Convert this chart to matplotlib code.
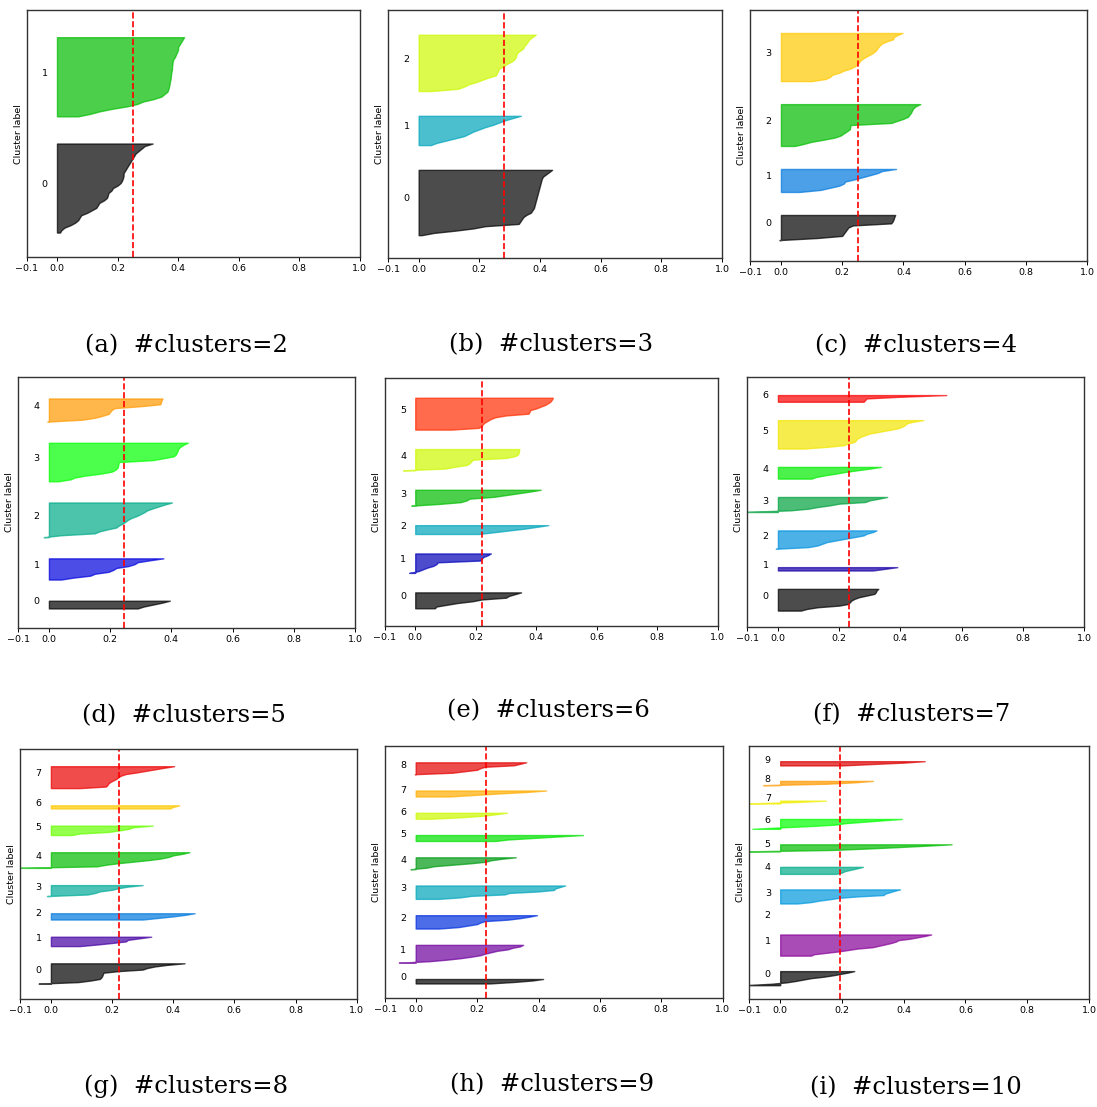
import numpy as np
import matplotlib
matplotlib.use("Agg")
import matplotlib.pyplot as plt
from matplotlib import cm

# ============================================================
# SILHOUETTE DATA (70 samples, one list per cluster)
# ============================================================

N_CLUSTERS = [2, 3, 4, 5, 6, 7, 8, 9, 10]
PANEL_TAGS = ["a", "b", "c", "d", "e", "f", "g", "h", "i"]
SILHOUETTE_AVG = [0.250, 0.281, 0.252, 0.246, 0.220, 0.233, 0.223, 0.229, 0.193]

SIL_K2 = [
    [0.01, 0.015, 0.025, 0.045, 0.06, 0.07, 0.075, 0.08, 0.10, 0.115, 0.13, 0.135,
     0.14, 0.155, 0.165, 0.168, 0.17, 0.18, 0.185, 0.20, 0.21, 0.215, 0.218, 0.22,
     0.22, 0.225, 0.23, 0.235, 0.24, 0.245, 0.25, 0.255, 0.26, 0.27, 0.28, 0.29, 0.316],
    [0.07, 0.11, 0.14, 0.18, 0.23, 0.265, 0.285, 0.32, 0.345, 0.355, 0.365, 0.368,
     0.37, 0.372, 0.373, 0.375, 0.376, 0.377, 0.378, 0.38, 0.38, 0.381, 0.382, 0.384,
     0.39, 0.393, 0.397, 0.40, 0.40, 0.405, 0.41, 0.415, 0.42],
]

SIL_K3 = [
    [0.01, 0.05, 0.12, 0.18, 0.22, 0.33, 0.335, 0.34, 0.345, 0.355, 0.37, 0.375,
     0.38, 0.382, 0.384, 0.386, 0.388, 0.39, 0.392, 0.394, 0.396, 0.398, 0.40, 0.402,
     0.404, 0.406, 0.41, 0.42, 0.43, 0.44],
    [0.04, 0.06, 0.09, 0.12, 0.15, 0.165, 0.18, 0.20, 0.22, 0.245, 0.265, 0.285, 0.31, 0.337],
    [0.04, 0.13, 0.15, 0.165, 0.19, 0.21, 0.23, 0.255, 0.258, 0.262, 0.265, 0.28, 0.29,
     0.305, 0.315, 0.32, 0.322, 0.325, 0.335, 0.345, 0.348, 0.355, 0.36, 0.365, 0.375, 0.386],
]

SIL_K4 = [
    [-0.005, 0.12, 0.20, 0.205, 0.21, 0.215, 0.22, 0.235, 0.36, 0.365, 0.368, 0.37, 0.373],
    [0.06, 0.13, 0.16, 0.19, 0.205, 0.21, 0.24, 0.265, 0.29, 0.315, 0.33, 0.376],
    [0.045, 0.075, 0.10, 0.14, 0.175, 0.195, 0.205, 0.215, 0.225, 0.226, 0.227, 0.36,
     0.38, 0.40, 0.415, 0.42, 0.425, 0.428, 0.432, 0.44, 0.455],
    [0.10, 0.145, 0.16, 0.167, 0.19, 0.205, 0.227, 0.24, 0.25, 0.255, 0.26, 0.27, 0.282,
     0.295, 0.305, 0.312, 0.316, 0.322, 0.33, 0.345, 0.366, 0.368, 0.38, 0.397],
]

SIL_K5 = [
    [0.29, 0.31, 0.34, 0.37, 0.395],
    [0.04, 0.08, 0.135, 0.15, 0.195, 0.21, 0.22, 0.26, 0.28, 0.29, 0.33, 0.374],
    [-0.017, 0.04, 0.15, 0.165, 0.19, 0.22, 0.228, 0.24, 0.25, 0.258, 0.27, 0.287, 0.30,
     0.312, 0.322, 0.34, 0.36, 0.38, 0.402],
    [0.03, 0.07, 0.085, 0.12, 0.17, 0.205, 0.217, 0.224, 0.226, 0.227, 0.228, 0.34, 0.375,
     0.408, 0.415, 0.418, 0.421, 0.423, 0.43, 0.44, 0.454],
    [-0.005, 0.11, 0.15, 0.175, 0.195, 0.20, 0.205, 0.215, 0.30, 0.364, 0.366, 0.368, 0.371],
]

SIL_K6 = [
    [0.065, 0.07, 0.105, 0.14, 0.19, 0.22, 0.30, 0.31, 0.33, 0.35],
    [-0.02, 0.01, 0.025, 0.04, 0.06, 0.07, 0.075, 0.215, 0.22, 0.225, 0.24, 0.25],
    [0.21, 0.26, 0.31, 0.36, 0.40, 0.44],
    [-0.013, 0.08, 0.15, 0.17, 0.18, 0.26, 0.30, 0.34, 0.38, 0.415],
    [-0.04, 0.10, 0.13, 0.17, 0.18, 0.185, 0.19, 0.30, 0.33, 0.34, 0.342, 0.343, 0.344],
    [0.12, 0.21, 0.22, 0.223, 0.23, 0.24, 0.25, 0.265, 0.30, 0.374, 0.378, 0.38, 0.40,
     0.415, 0.43, 0.44, 0.448, 0.452, 0.455],
]

SIL_K7 = [
    [0.075, 0.095, 0.13, 0.20, 0.23, 0.235, 0.24, 0.25, 0.265, 0.29, 0.315, 0.32, 0.322, 0.328],
    [0.31, 0.35, 0.39],
    [-0.007, 0.10, 0.13, 0.145, 0.16, 0.19, 0.22, 0.25, 0.28, 0.29, 0.31, 0.322],
    [-0.12, 0.04, 0.10, 0.13, 0.17, 0.20, 0.285, 0.30, 0.33, 0.357],
    [0.11, 0.125, 0.155, 0.19, 0.22, 0.26, 0.30, 0.337],
    [0.085, 0.16, 0.215, 0.23, 0.25, 0.255, 0.26, 0.27, 0.285, 0.30, 0.33, 0.36, 0.39,
     0.405, 0.415, 0.42, 0.44, 0.475],
    [0.28, 0.285, 0.29, 0.40, 0.55],
]

SIL_K8 = [
    [-0.04, 0.09, 0.13, 0.16, 0.165, 0.168, 0.17, 0.172, 0.22, 0.30, 0.315, 0.34, 0.38, 0.437],
    [0.095, 0.15, 0.20, 0.245, 0.252, 0.29, 0.328],
    [0.30, 0.35, 0.40, 0.44, 0.47],
    [-0.013, 0.12, 0.145, 0.16, 0.20, 0.22, 0.25, 0.30],
    [-0.11, 0.15, 0.18, 0.22, 0.27, 0.32, 0.36, 0.385, 0.40, 0.43, 0.453],
    [0.068, 0.095, 0.19, 0.225, 0.255, 0.27, 0.333],
    [0.39, 0.40, 0.42],
    [0.095, 0.18, 0.185, 0.188, 0.195, 0.205, 0.215, 0.22, 0.23, 0.245, 0.28, 0.31, 0.34,
     0.37, 0.403],
]

SIL_K9 = [
    [0.24, 0.32, 0.38, 0.415],
    [-0.055, 0.045, 0.10, 0.145, 0.18, 0.21, 0.225, 0.245, 0.265, 0.30, 0.315, 0.34, 0.35],
    [0.075, 0.14, 0.17, 0.20, 0.21, 0.225, 0.30, 0.34, 0.37, 0.395],
    [0.075, 0.145, 0.18, 0.29, 0.305, 0.40, 0.45, 0.455, 0.47, 0.487],
    [-0.017, 0.035, 0.06, 0.12, 0.18, 0.227, 0.245, 0.28, 0.326],
    [0.26, 0.30, 0.38, 0.46, 0.545],
    [0.05, 0.15, 0.22, 0.26, 0.297],
    [0.11, 0.19, 0.27, 0.36, 0.425],
    [-0.003, 0.12, 0.16, 0.20, 0.21, 0.225, 0.32, 0.34, 0.36],
]

SIL_K10 = [
    [-0.12, -0.03, 0.02, 0.05, 0.075, 0.10, 0.14, 0.17, 0.195, 0.22, 0.24],
    [0.10, 0.11, 0.15, 0.19, 0.22, 0.25, 0.30, 0.32, 0.34, 0.36, 0.375, 0.383, 0.42,
     0.445, 0.47, 0.489],
    [0.0],
    [0.055, 0.10, 0.125, 0.16, 0.19, 0.25, 0.335, 0.34, 0.355, 0.37, 0.388],
    [0.18, 0.20, 0.21, 0.23, 0.25, 0.268],
    [-0.11, 0.17, 0.28, 0.38, 0.47, 0.555],
    [-0.09, 0.00, 0.10, 0.18, 0.21, 0.27, 0.33, 0.394],
    [-0.11, 0.05, 0.148],
    [-0.055, 0.15, 0.24, 0.30],
    [0.20, 0.30, 0.40, 0.468],
]

SILHOUETTES = [SIL_K2, SIL_K3, SIL_K4, SIL_K5, SIL_K6, SIL_K7, SIL_K8, SIL_K9, SIL_K10]

# ============================================================
# LAYOUT (pixel boxes: left, right, top, bottom; caption centre)
# ============================================================

W, H = 1097, 1107

AX_BOXES = [
    (26.7, 359.7, 10.0, 257.3),
    (388.3, 722.0, 10.0, 257.7),
    (750.3, 1087.3, 10.0, 261.0),
    (18.3, 355.0, 377.3, 627.7),
    (385.0, 717.7, 378.3, 626.0),
    (747.3, 1084.0, 376.7, 627.3),
    (20.3, 356.7, 749.0, 999.3),
    (385.0, 722.7, 746.0, 998.3),
    (749.3, 1089.0, 745.7, 999.3),
]

CAPTION_POS = [
    (186, 346), (551, 345), (916, 346),
    (184, 716), (548, 711), (912, 715),
    (186, 1086), (552, 1085), (916, 1088),
]

SMALL = 6.8

fig = plt.figure(figsize=(W / 100, H / 100), dpi=100)

for k, n in enumerate(N_CLUSTERS):

    x0, x1, yt, yb = AX_BOXES[k]

    ax = fig.add_axes([x0 / W, 1 - yb / H, (x1 - x0) / W, (yb - yt) / H])

    clusters = SILHOUETTES[k]
    n_samples = sum(len(c) for c in clusters)

    y_lower = 10

    for i, vals in enumerate(clusters):

        vals = np.sort(np.asarray(vals, dtype=float))
        size = len(vals)
        y_upper = y_lower + size

        color = cm.nipy_spectral(float(i) / n)

        ax.fill_betweenx(
            np.arange(y_lower, y_upper),
            0,
            vals,
            facecolor=color,
            edgecolor=color,
            alpha=0.7
        )

        ax.text(-0.05, y_lower + 0.5 * size, str(i), fontsize=SMALL)

        y_lower = y_upper + 10

    ax.axvline(x=SILHOUETTE_AVG[k], color="red", linestyle="--", linewidth=1.2)

    ax.set_xlim([-0.1, 1])
    ax.set_ylim([0, n_samples + (n + 1) * 10])

    ax.set_yticks([])
    ax.set_xticks([-0.1, 0, 0.2, 0.4, 0.6, 0.8, 1])
    ax.tick_params(axis="x", labelsize=SMALL, length=3, width=0.7, pad=2)

    ax.set_ylabel("Cluster label", fontsize=SMALL, labelpad=3)

    for spine in ax.spines.values():
        spine.set_linewidth(1.0)
        spine.set_color("#333333")

    cx, cy = CAPTION_POS[k]
    fig.text(
        cx / W, 1 - cy / H,
        f"({PANEL_TAGS[k]})  #clusters={n}",
        ha="center", va="center",
        family="DejaVu Serif", fontsize=17.5
    )

fig.savefig("out.png", dpi=100)
